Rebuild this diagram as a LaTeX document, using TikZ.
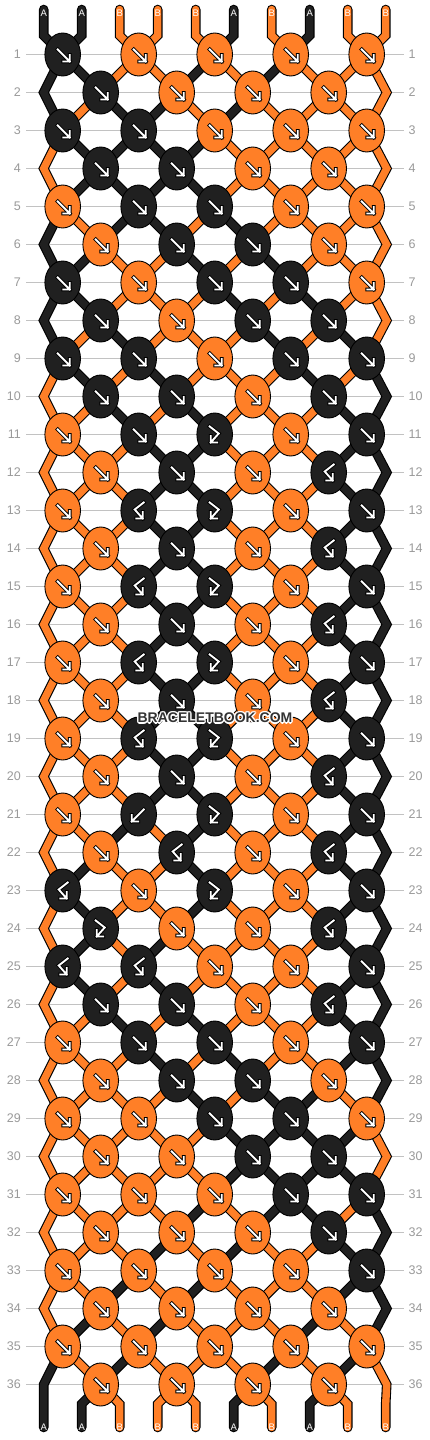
\documentclass[tikz,border=0pt]{standalone}
\usepackage{fontspec}
\setmainfont{Liberation Sans}
\usetikzlibrary{shapes.geometric}
\definecolor{cA}{HTML}{202020}
\definecolor{cB}{HTML}{FF7F27}
\definecolor{linegray}{HTML}{C2C2C2}
\definecolor{labgray}{HTML}{9A9A9A}
\definecolor{wmgray}{HTML}{333333}

\tikzset{
 knot/.style={ellipse, minimum width=35.6pt, minimum height=43pt, inner sep=0pt, draw=black, line width=0.9pt},
 strout/.style={line width=9.6pt, draw=black, line cap=round},
 strin/.style={line width=7.4pt, line cap=round},
 arrowout/.style={line width=3.8pt, draw=black, line cap=rect},
 arrowin/.style={line width=1.9pt, draw=white, line cap=rect},
 rowline/.style={draw=linegray, line width=0.9pt},
 rowlab/.style={text=labgray, font=\fontsize{12.5}{14}\selectfont, inner sep=0pt},
 endlab/.style={text=white, font=\fontsize{9.5}{10}\selectfont, inner sep=0pt},
 wmark/.style={font=\bfseries\fontsize{14}{16}\selectfont, inner sep=0pt},
}

\newcommand\setcol[2]{\expandafter\xdef\csname strcol#1\endcsname{#2}}
\newcommand\setsrc[2]{\expandafter\xdef\csname strsrc#1\endcsname{#2}}
\newcommand\setvia[2]{\expandafter\xdef\csname strvia#1\endcsname{#2}}
\newcommand\kt[3]{\expandafter\def\csname kt-#1-#2\endcsname{#3}}
\def\typef{f}\def\typeb{b}\def\typefb{fb}\def\typebf{bf}

% knot types that are not plain forward
\kt{11}{3}{fb}
\kt{12}{4}{bf}
\kt{13}{2}{bf}\kt{13}{3}{fb}
\kt{14}{4}{bf}
\kt{15}{2}{bf}\kt{15}{3}{fb}
\kt{16}{4}{bf}
\kt{17}{2}{bf}\kt{17}{3}{fb}
\kt{18}{4}{bf}
\kt{19}{2}{bf}\kt{19}{3}{fb}
\kt{20}{4}{bf}
\kt{21}{2}{b}\kt{21}{3}{fb}
\kt{22}{2}{bf}\kt{22}{4}{bf}
\kt{23}{1}{bf}\kt{23}{3}{fb}
\kt{24}{1}{fb}\kt{24}{4}{bf}
\kt{25}{1}{bf}\kt{25}{2}{bf}
\kt{26}{4}{bf}

\newcommand\drawstring[2]{%
  \edef\tmpsrc{\csname strsrc#1\endcsname}%
  \edef\tmpvia{\csname strvia#1\endcsname}%
  \edef\tmpcol{c\csname strcol#1\endcsname}%
  \ifx\tmpvia\empty
    \edef\tmppath{(\tmpsrc) -- #2}%
  \else
    \edef\tmppath{(\tmpsrc) -- (\tmpvia) -- #2}%
  \fi
  \edef\tmpcmd{\noexpand\draw[strout] \tmppath; \noexpand\draw[strin, draw=\tmpcol] \tmppath;}%
  \tmpcmd
}

\newcommand\arrowdraw[2]{%
  \draw[shift={(#1.center)}, arrowout] #2;
  \draw[shift={(#1.center)}, arrowin] #2;
}
\newcommand\arrowf[1]{\arrowdraw{#1}{(-5,-5) -- (7,7) (0.5,7) -- (7,7) -- (7,0.5)}}
\newcommand\arrowb[1]{\arrowdraw{#1}{(5,-5) -- (-7,7) (-0.5,7) -- (-7,7) -- (-7,0.5)}}
\newcommand\arrowfb[1]{\arrowdraw{#1}{(-5,-8) -- (4,-1) -- (-4,8) (2.5,8) -- (-4,8) -- (-4,1.5)}}
\newcommand\arrowbf[1]{\arrowdraw{#1}{(5,-8) -- (-4,-1) -- (4,8) (-2.5,8) -- (4,8) -- (4,1.5)}}

% simulation step: strings into knot, remember knot colour
\newcommand\doknot{%
  \edef\kname{kp-\rr-\kk}%
  \ifcsname kt-\rr-\kk\endcsname
    \edef\ktype{\csname kt-\rr-\kk\endcsname}%
  \else
    \def\ktype{f}%
  \fi
  \edef\lc{\csname strcol\pp\endcsname}%
  \edef\rc{\csname strcol\qq\endcsname}%
  \ifx\ktype\typef \let\kc\lc \def\doswap{1}\fi
  \ifx\ktype\typefb \let\kc\lc \def\doswap{0}\fi
  \ifx\ktype\typeb \let\kc\rc \def\doswap{1}\fi
  \ifx\ktype\typebf \let\kc\rc \def\doswap{0}\fi
  \expandafter\xdef\csname kcol-\rr-\kk\endcsname{\kc}%
  \expandafter\xdef\csname ktyp-\rr-\kk\endcsname{\ktype}%
  \coordinate (\kname) at (\xx,\yy);
  \drawstring{\pp}{(\kname)}%
  \drawstring{\qq}{(\kname)}%
  \ifnum\doswap=1
    \setcol{\pp}{\rc}\setcol{\qq}{\lc}%
  \fi
  \setsrc{\pp}{\kname}\setsrc{\qq}{\kname}%
  \setvia{\pp}{}\setvia{\qq}{}%
}

\newcommand\halotext[1]{%
  \leavevmode
  \rlap{\color{white}\kern1.3pt #1}%
  \rlap{\color{white}\kern-1.3pt #1}%
  \rlap{\color{white}\raisebox{1.3pt}{#1}}%
  \rlap{\color{white}\raisebox{-1.3pt}{#1}}%
  \rlap{\color{white}\kern1pt\raisebox{1pt}{#1}}%
  \rlap{\color{white}\kern-1pt\raisebox{1pt}{#1}}%
  \rlap{\color{white}\kern1pt\raisebox{-1pt}{#1}}%
  \rlap{\color{white}\kern-1pt\raisebox{-1pt}{#1}}%
  {\color{wmgray}#1}%
}

\begin{document}
\begin{tikzpicture}[x=1pt, y=-1pt]
\useasboundingbox (0,0) rectangle (430,1440);
\fill[white] (0,0) rectangle (430,1440);

% row guide lines and numbers
\foreach \rr in {1,...,36}{
  \pgfmathsetmacro\yy{54.5+38*(\rr-1)}
  \draw[rowline] (26,\yy) -- (404,\yy);
  \node[rowlab, anchor=east] (ll-\rr) at (21,\yy) {\rr};
  \node[rowlab, anchor=west] (rl-\rr) at (408.5,\yy) {\rr};
}

% top string ends
\foreach \pp/\cc in {1/A,2/A,3/B,4/B,5/B,6/A,7/B,8/A,9/B,10/B}{
  \pgfmathsetmacro\xs{43.7+38*(\pp-1)}
  \coordinate (top-\pp) at (\xs,9.5);
  \coordinate (bend-\pp) at (\xs,35.5);
  \setcol{\pp}{\cc}\setsrc{\pp}{top-\pp}\setvia{\pp}{bend-\pp}
}

% strings, rows 1..36
\foreach \rr in {1,...,36}{
  \pgfmathtruncatemacro\odd{mod(\rr,2)}
  \pgfmathsetmacro\yy{54.5+38*(\rr-1)}
  \ifnum\odd=1
    \def\nk{5}\def\xo{62.7}\def\po{1}
  \else
    \def\nk{4}\def\xo{100.7}\def\po{2}
    \coordinate (e-\rr-L) at (43.7,\yy);
    \coordinate (e-\rr-R) at (386.7,\yy);
    \setvia{1}{e-\rr-L}\setvia{10}{e-\rr-R}
  \fi
  \foreach \kk in {1,...,\nk}{
    \pgfmathsetmacro\xx{\xo+76*(\kk-1)}
    \pgfmathtruncatemacro\pp{\po+2*(\kk-1)}
    \pgfmathtruncatemacro\qq{\pp+1}
    \doknot
  }
}

% bottom string ends
\foreach \pp in {1,...,10}{
  \pgfmathsetmacro\xs{43.7+38*(\pp-1)}
  \coordinate (bb-\pp) at (\xs,1404);
  \coordinate (bot-\pp) at (\xs,1427.5);
  \drawstring{\pp}{(bb-\pp) -- (bot-\pp)}
}

% knots
\foreach \rr in {1,...,36}{
  \pgfmathtruncatemacro\odd{mod(\rr,2)}
  \ifnum\odd=1 \def\nk{5}\else \def\nk{4}\fi
  \foreach \kk in {1,...,\nk}{
    \edef\kc{\csname kcol-\rr-\kk\endcsname}%
    \edef\ktype{\csname ktyp-\rr-\kk\endcsname}%
    \node[knot, fill=c\kc] (kn-\rr-\kk) at (kp-\rr-\kk) {};
    \csname arrow\ktype\endcsname{kn-\rr-\kk}%
  }
}

% end labels
\foreach \pp/\cc in {1/A,2/A,3/B,4/B,5/B,6/A,7/B,8/A,9/B,10/B}{
  \pgfmathsetmacro\xs{43.7+38*(\pp-1)}
  \node[endlab] (tl-\pp) at (\xs,13) {\cc};
  \node[endlab] (bl-\pp) at (\xs,1427) {\csname strcol\pp\endcsname};
}

\node[wmark] (wm) at (215,718) {\halotext{BRACELETBOOK.COM}};
\end{tikzpicture}
\end{document}
